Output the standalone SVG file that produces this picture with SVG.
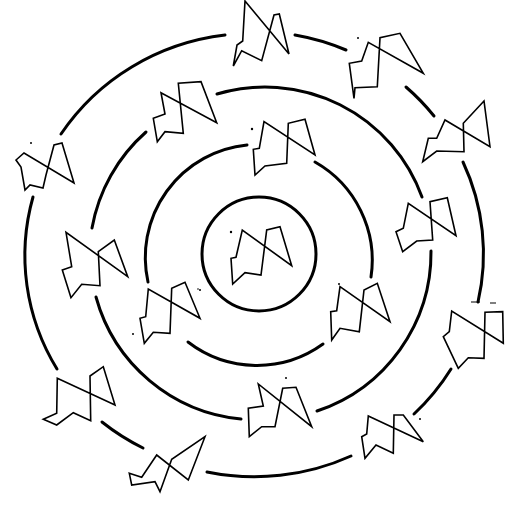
<svg xmlns="http://www.w3.org/2000/svg" width="510" height="506" viewBox="0 0 510 506">
<style>
.ring{fill:none;stroke:#000;stroke-width:3;stroke-linecap:round}
.g{fill:none;stroke:#000;stroke-width:1.6;stroke-linejoin:miter}
.dot{fill:#000}
</style>
<rect width="510" height="506" fill="#fff"/>
<g id="rings">
<circle id="ring1" class="ring" cx="259" cy="254" r="57"/>
<g id="ring2">
<path class="ring" d="M315 162 A113 113 0 0 1 371 277"/>
<path class="ring" d="M323 344 A113 113 0 0 1 188 342"/>
<path class="ring" d="M148 282 A113 113 0 0 1 247 145"/>
</g>
<g id="ring3">
<path class="ring" d="M217 94 A167 167 0 0 1 422 197"/>
<path class="ring" d="M431 251 A167 167 0 0 1 317 411"/>
<path class="ring" d="M241 419 A167 167 0 0 1 96 297"/>
<path class="ring" d="M92 228 A167 167 0 0 1 146 132"/>
</g>
<g id="ring4">
<path class="ring" d="M295 35 A229 222 0 0 1 346 50"/>
<path class="ring" d="M406 87 A229 222 0 0 1 434 116"/>
<path class="ring" d="M463 162 A229 222 0 0 1 478 302"/>
<path class="ring" d="M451 369 A229 222 0 0 1 414 414"/>
<path class="ring" d="M351 456 A229 222 0 0 1 207 472"/>
<path class="ring" d="M143 448 A229 222 0 0 1 102 422"/>
<path class="ring" d="M57 369 A229 222 0 0 1 33 197"/>
<path class="ring" d="M61 134 A229 222 0 0 1 225 35"/>
<path d="M471 302 L480 302 M490 303 L496 303" stroke="#000" stroke-width="1.2"/>
</g>
</g>
<g id="glyphs">
<polygon id="g-center" class="g" points="232.7,284 231,258.3 236,257.3 242.3,230 291.7,265.7 280,226.7 266.7,230 261,275 245,272.7"/>
<polygon id="g-top" class="g" points="233.3,66 237,45 242.7,41 245,1 289,54 279.3,14 274,15 261.7,60.7 241.7,50.7"/>
<polygon id="g-ul4" class="g" points="25,190 21,167 16,160 24,153 74,183 62,143 54,145 46,175 43,188 30,185"/>
<polygon id="g-ul3" class="g" points="157.3,141.7 153.3,118.3 165,114 161,92.7 216.7,122.7 201,81.7 178.3,83.3 183.3,133.3 165,131.7"/>
<polygon id="g-top2" class="g" points="255,175 253.3,149.3 259.3,148.3 264,121.7 315,155 305,119.3 288.3,123.3 286.7,163.3 265,166"/>
<polygon id="g-left3" class="g" points="71,297.7 62.3,270 71.7,266.7 66,232.3 127.7,276.7 114.3,240 98.3,251.7 100,285.7 81.7,284.3"/>
<polygon id="g-ll2" class="g" points="144.3,343.3 140,318.3 145.7,316.7 148.3,289 200,318.3 185,282.3 171.7,288.3 170,333.3 153.3,332.3"/>
<polygon id="g-ll4" class="g" points="57.3,378.3 115,405 103.3,366.7 90,376 90.7,420.7 73.3,412.7 56.7,425 43.3,419.3 56.7,413.3"/>
<polygon id="g-bl4" class="g" points="129.3,473.3 141.7,477.3 156.7,455 188.3,480 205,436.7 171.7,459.3 160,491.7 155,481.7 131.7,485"/>
<polygon id="g-lr2" class="g" points="331.7,340 330.7,311.7 336.7,310.7 340,286.7 390,321.7 377.3,283.3 364,290 359.3,331.7 340,328.3"/>
<polygon id="g-bot3" class="g" points="249.3,436.7 248.3,408.3 263.3,406 258.3,384 311.7,426.7 296,387.3 282.7,388.3 275,426.7 261.7,426.7"/>
<polygon id="g-br4" class="g" points="365,458.3 361.7,436.7 366.7,434 368.3,416 423.3,441.7 403.3,415 394,415 393.3,453.3 376,445"/>
<polygon id="g-tr4a" class="g" points="354,98.3 349.3,63.3 361.7,61 368.3,42.3 423.3,73.3 400,33.3 380,37.7 377.3,86.7 355,87.7"/>
<polygon id="g-tr4b" class="g" points="422.7,161.7 428.3,138.3 436.7,138.3 445,120 490,146.7 484,101 463.3,123.3 464,151.7 436.7,151"/>
<polygon id="g-right3" class="g" points="402.7,251.7 396,231.7 403.3,228.3 408.3,203.3 456,235.7 447.3,197.7 430,201.7 432.7,240 416.7,241"/>
<polygon id="g-right4" class="g" points="458.3,368.3 443.3,336.7 449.3,331.7 451.7,311 503.3,343.3 502.7,311.7 485,312.3 484,358.3 468.3,357.7"/>
</g>
<g id="specks">
<circle class="dot" cx="31" cy="143" r="1"/>
<circle class="dot" cx="358" cy="38" r="1"/>
<circle class="dot" cx="252" cy="129" r="1.2"/>
<circle class="dot" cx="231" cy="232" r="1.2"/>
<circle class="dot" cx="200" cy="290" r="1"/>
<circle class="dot" cx="133" cy="334" r="1"/>
<circle class="dot" cx="339" cy="284" r="1"/>
<circle class="dot" cx="286" cy="378" r="1"/>
<circle class="dot" cx="420" cy="419" r="1"/>
<circle class="dot" cx="198" cy="289" r="0.8"/>
</g>
</svg>
